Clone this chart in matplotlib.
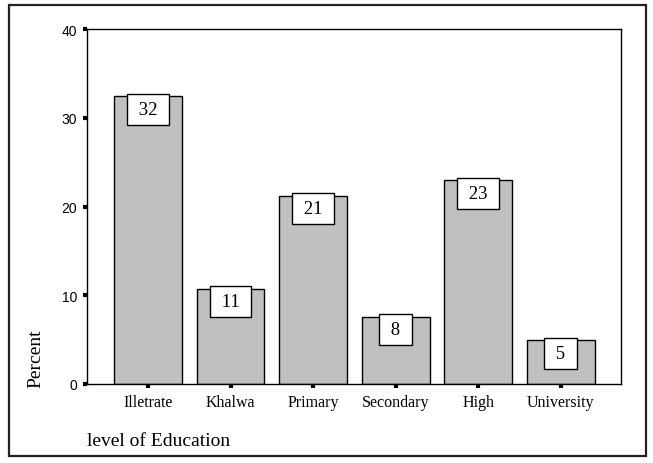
import matplotlib
import matplotlib.pyplot as plt
from matplotlib.patches import Rectangle

matplotlib.use("Agg")

categories = ["Illetrate", "Khalwa", "Primary", "Secondary", "High", "University"]
percent = [32.4, 10.7, 21.2, 7.6, 22.95, 4.9]
y_ticks = [0, 10, 20, 30, 40]

BAR = "#c0c0c0"
SERIF = "Liberation Serif"
SANS = "Liberation Sans"

fig = plt.figure(figsize=(6.53, 4.64), dpi=100)
fig.patch.set_facecolor("white")

# outer frame around whole chart
fig.patches.append(Rectangle((0.014, 0.015), 0.975, 0.972, transform=fig.transFigure,
                             fill=False, edgecolor="#222222", linewidth=1.6))

ax = fig.add_axes([0.1332, 0.1703, 0.818, 0.765])
x = range(len(categories))
ax.bar(x, percent, width=0.82, color=BAR, edgecolor="black", linewidth=1, zorder=2)

for i, v in zip(x, percent):
    ax.text(i, v - 1.45, f" {round(v)} ", ha="center", va="center", fontsize=13.5,
            family=SERIF, zorder=4,
            bbox=dict(boxstyle="square,pad=0.37", facecolor="white", edgecolor="black", linewidth=1))

ax.set_xlim(-0.74, 5.73)
ax.set_ylim(0, 40)
ax.set_yticks(y_ticks)
ax.set_xticks(list(x))
ax.set_xticklabels(categories, family=SERIF, fontsize=11.5)
for lab in ax.get_yticklabels():
    lab.set_family(SANS)
    lab.set_fontsize(10)
ax.tick_params(axis="both", direction="out", length=3, width=3, color="black", pad=4)

for s in ax.spines.values():
    s.set_linewidth(1)
    s.set_color("black")

fig.text(0.055, 0.228, "Percent", rotation=90, ha="center", va="center",
         family=SERIF, fontsize=14)
fig.text(0.1332, 0.048, "level of Education", ha="left", va="center",
         family=SERIF, fontsize=14)

fig.savefig("out.png", dpi=100)
